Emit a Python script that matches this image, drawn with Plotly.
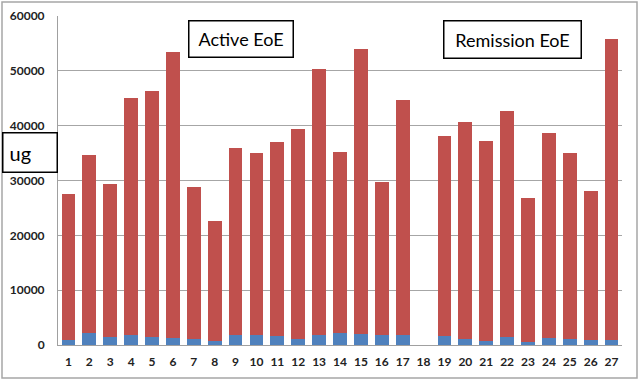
import plotly.graph_objects as go

categories = [str(i) for i in range(1, 28)]
totals = [27600, 34700, 29400, 45100, 46300, 53500, 28800, 22600, 35900, 35000,
          37000, 39400, 50400, 35200, 53900, 29700, 44700, 0, 38200, 40700,
          37200, 42700, 26800, 38700, 35000, 28100, 55800]
blue_vals = [900, 2250, 1400, 1750, 1400, 1300, 1050, 700, 1750, 1800,
             1650, 1100, 1800, 2100, 2050, 1750, 1850, 0, 1600, 1100,
             700, 1400, 600, 1250, 1050, 850, 900]
red_vals = [t - b for t, b in zip(totals, blue_vals)]
y_ticks = [0, 10000, 20000, 30000, 40000, 50000, 60000]
y_tick_labels = [str(v) for v in y_ticks]

W, H = 640, 381
L, R, T, B = 58, 18, 16, 36
pw, ph = W - L - R, H - T - B

def px(x):
    return (x - L) / pw

def py(y):
    return 1 - (y - T) / ph

fig = go.Figure()
fig.add_trace(go.Bar(x=categories, y=blue_vals, marker=dict(color="#4F81BD", line=dict(width=0))))
fig.add_trace(go.Bar(x=categories, y=red_vals, marker=dict(color="#C0504D", line=dict(width=0))))

tickfont = dict(family="Lato, Open Sans, sans-serif", size=12, color="#222222", weight="bold")
fig.update_layout(
    barmode="stack",
    bargap=0.34,
    width=W, height=H,
    margin=dict(l=L, r=R, t=T, b=B, pad=0),
    paper_bgcolor="white", plot_bgcolor="white",
    showlegend=False,
    xaxis=dict(type="category", showgrid=False, showline=True, linecolor="#A0A0A0",
               linewidth=1, ticks="", tickfont=tickfont, ticklabelstandoff=6,
               automargin=False),
    yaxis=dict(range=[0, 60000], tickvals=y_ticks, ticktext=y_tick_labels,
               showgrid=True, gridcolor="#A6A6A6",
               gridwidth=1, showline=True, linecolor="#A0A0A0", linewidth=1,
               zeroline=False, ticks="", tickfont=tickfont, ticklabelstandoff=10,
               automargin=False),
    font=dict(family="Lato, Open Sans, sans-serif"),
)

# outer border
fig.add_shape(type="rect", xref="paper", yref="paper",
              x0=px(2), x1=px(637), y0=py(378), y1=py(2),
              line=dict(color="#A6A6A6", width=1.5), layer="below")

boxfont = dict(family="Lato, Open Sans, sans-serif", size=18, color="black")
fig.add_annotation(text="Active EoE", xref="paper", yref="paper",
                   x=px(240.5), y=py(38.5), showarrow=False, font=boxfont,
                   width=101, height=33, bordercolor="black", borderwidth=1.5,
                   bgcolor="white", xanchor="center", yanchor="middle")
fig.add_annotation(text="Remission EoE", xref="paper", yref="paper",
                   x=px(512), y=py(39), showarrow=False, font=boxfont,
                   width=134, height=34, bordercolor="black", borderwidth=1.5,
                   bgcolor="white", xanchor="center", yanchor="middle")
fig.add_annotation(text="&nbsp;ug", xref="paper", yref="paper",
                   x=px(29.5), y=py(153), showarrow=False,
                   font=dict(family="Lato, Open Sans, sans-serif", size=20, color="black"),
                   width=51, height=36, align="left", borderpad=1,
                   bordercolor="black", borderwidth=1.5,
                   bgcolor="white", xanchor="center", yanchor="middle")

fig.write_html("out.html", config={"displayModeBar": False},
               post_script="document.body.style.margin='0';document.body.style.overflow='hidden';")
